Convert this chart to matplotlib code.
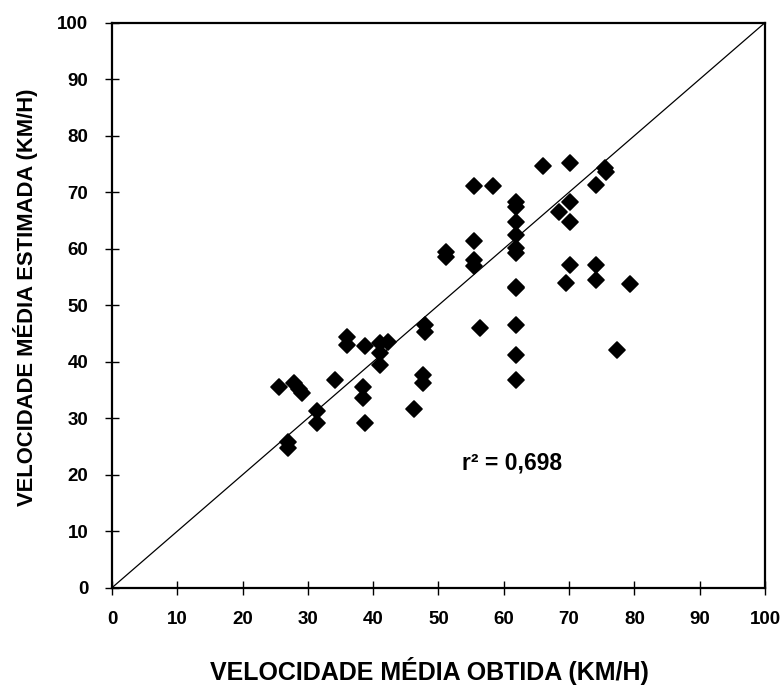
import matplotlib
matplotlib.use("Agg")
import matplotlib.pyplot as plt
from matplotlib.markers import MarkerStyle

plt.rcParams['font.family'] = ['Liberation Sans', 'DejaVu Sans']

# observed vs estimated mean speed (km/h)
obtida = [25.6, 27.8, 28.6, 29.1, 27.0, 27.0, 31.4, 31.4, 34.2, 36.0,
          36.0, 38.8, 38.5, 38.5, 38.8, 41.1, 41.1, 41.1, 42.2, 46.2,
          48.0, 48.0, 47.6, 47.6, 51.2, 51.2, 55.5, 58.4, 55.5, 55.5,
          55.5, 56.3, 61.8, 61.8, 61.8, 61.8, 61.8, 61.8, 61.8, 61.8,
          61.8, 61.8, 61.8, 66.0, 70.2, 70.1, 68.5, 70.1, 70.1, 69.5,
          74.1, 75.5, 75.7, 74.1, 74.1, 79.4, 77.3]
estimada = [35.6, 36.3, 35.1, 34.4, 25.8, 24.7, 31.2, 29.1, 36.8, 44.4,
            43.0, 42.7, 35.6, 33.5, 29.2, 43.3, 41.5, 39.4, 43.5, 31.7,
            46.5, 45.3, 37.6, 36.2, 59.5, 58.6, 71.1, 71.1, 61.4, 58.0,
            57.0, 45.9, 68.3, 67.4, 64.8, 62.4, 60.1, 59.2, 53.3, 53.0,
            46.5, 41.2, 36.8, 74.6, 75.2, 68.3, 66.5, 64.7, 57.2, 54.0,
            71.2, 74.2, 73.6, 57.1, 54.5, 53.7, 42.1]

fig = plt.figure(figsize=(7.83, 6.87), dpi=100)
ax = fig.add_axes([0.143, 0.1445, 0.834, 0.8225])

ax.plot([0, 100], [0, 100], color='black', lw=0.9)
ax.plot(obtida, estimada, linestyle='none',
        marker=MarkerStyle('D', joinstyle='round'), ms=8,
        color='black', markeredgewidth=1.2)

ax.set_xlim(0, 100)
ax.set_ylim(0, 100)
ax.set_xticks(range(0, 101, 10))
ax.set_yticks(range(0, 101, 10))
ax.tick_params(direction='inout', length=10, width=1, labelsize=13.5)
ax.tick_params(axis='x', pad=12)
ax.tick_params(axis='y', pad=12)
for lab in ax.get_xticklabels() + ax.get_yticklabels():
    lab.set_fontweight('bold')
for s in ax.spines.values():
    s.set_linewidth(1.6)

ax.set_xlabel('VELOCIDADE MÉDIA OBTIDA (KM/H)', fontsize=18,
              fontweight='bold', va='center')
ax.xaxis.set_label_coords(0.4855, -0.147)
ax.set_ylabel('VELOCIDADE MÉDIA ESTIMADA (KM/H)', fontsize=15.8,
              fontweight='bold', va='center')
ax.yaxis.set_label_coords(-0.133, 0.5145)

ax.text(53.6, 22.1, 'r\u00b2 = 0,698', fontsize=16.5,
        fontweight='bold', va='center')

fig.savefig('out.png', dpi=100)
